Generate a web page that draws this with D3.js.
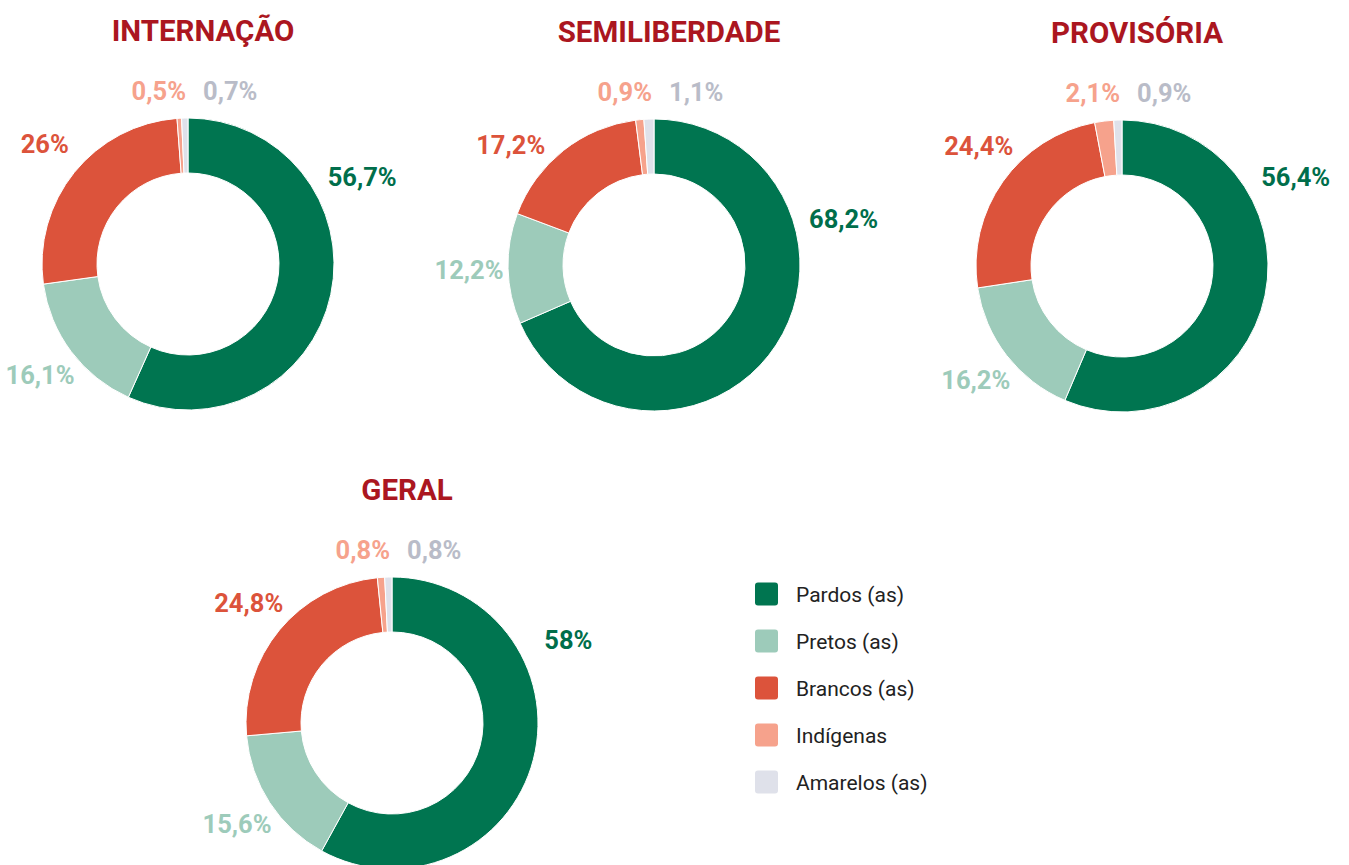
<!DOCTYPE html>
<html lang="pt-BR">
<head>
<meta charset="utf-8">
<script src="https://cdn.jsdelivr.net/npm/d3@7"></script>
<style>
  html, body { margin: 0; padding: 0; background: #fff; }
  svg { display: block; font-family: Roboto, "Noto Sans", sans-serif; }
</style>
</head>
<body>
<svg id="chart" width="1349" height="865"></svg>
<script>
// Raça/cor dos adolescentes por modalidade de medida (%)
const categories = ["Pardos (as)", "Pretos (as)", "Brancos (as)", "Indígenas", "Amarelos (as)"];
const panelTitles = ["INTERNAÇÃO", "SEMILIBERDADE", "PROVISÓRIA", "GERAL"];
const internacao    = [56.7, 16.1, 26.0, 0.5, 0.7];
const semiliberdade = [68.2, 12.2, 17.2, 0.9, 1.1];
const provisoria    = [56.4, 16.2, 24.4, 2.1, 0.9];
const geral         = [58.0, 15.6, 24.8, 0.8, 0.8];

const sliceColors = ["#007550", "#9dcbba", "#dc533b", "#f6a28c", "#dfe1ea"];
const labelColors = ["#006e4b", "#9dcbba", "#dc533b", "#f6a28c", "#b9bcc8"];
const titleColor = "#ab1620";

// donut placement on the page
const panels = [
  { title: panelTitles[0], values: internacao,    cx: 188, cy: 264 },
  { title: panelTitles[1], values: semiliberdade, cx: 654, cy: 265 },
  { title: panelTitles[2], values: provisoria,    cx: 1122, cy: 266 },
  { title: panelTitles[3], values: geral,         cx: 392, cy: 723 }
];

const outerR = 146, innerR = 91;
const svg = d3.select("#chart");
const pie = d3.pie().sort(null).value(d => d);
const arc = d3.arc().innerRadius(innerR).outerRadius(outerR);
const fmt = v => (Number.isInteger(v) ? String(v) : d3.format(".1f")(v).replace(".", ",")) + "%";

// point at a given angle (clockwise from 12 o'clock) and radius
const polar = (a, r) => [Math.sin(a) * r, -Math.cos(a) * r];

// where each value label sits around its ring
function labelPoint(d, i) {
  const mid = (d.startAngle + d.endAngle) / 2;
  if (i === 0) return polar(mid * 0.62, 195);          // main slice: upper part of its arc
  if (i === 2) return polar(-50 * Math.PI / 180, 187); // upper-left diagonal
  return polar(mid, 185);                               // centred on the slice
}

panels.forEach(p => {
  const g = svg.append("g").attr("transform", `translate(${p.cx},${p.cy})`);
  const arcs = pie(p.values);

  g.selectAll("path.slice")
    .data(arcs)
    .join("path")
    .attr("class", "slice")
    .attr("d", arc)
    .attr("fill", (d, i) => sliceColors[i])
    .attr("stroke", "#fff")
    .attr("stroke-width", 1);

  // title above the ring
  svg.append("text")
    .attr("x", p.cx + 15)
    .attr("y", p.cy - outerR - 77)
    .attr("text-anchor", "middle")
    .attr("fill", titleColor)
    .attr("font-size", 29.5)
    .attr("font-weight", 700)
    .text(p.title);

  // value labels
  g.selectAll("text.val")
    .data(arcs)
    .join("text")
    .attr("class", "val")
    .attr("font-size", 25.5)
    .attr("font-weight", 700)
    .attr("fill", (d, i) => labelColors[i])
    .each(function (d, i) {
      const t = d3.select(this);
      if (d.value < 3) {
        // thin slices near 12 o'clock: labels side by side above the ring
        const left = i === 3;
        t.attr("x", left ? -2 : 15)
         .attr("y", -outerR - 18)
         .attr("text-anchor", left ? "end" : "start");
      } else {
        const [x, y] = labelPoint(d, i);
        t.attr("x", x).attr("y", y).attr("text-anchor", "middle").attr("dy", "0.36em");
      }
    })
    .text(d => fmt(d.value));
});

// legend
const legend = svg.append("g").attr("transform", "translate(755,594)");
const rowY = d3.scalePoint().domain(categories).range([0, 47 * (categories.length - 1)]);
const rows = legend.selectAll("g").data(categories).join("g")
  .attr("transform", d => `translate(0,${rowY(d)})`);
rows.append("rect")
  .attr("x", 0).attr("y", -11.5)
  .attr("width", 23).attr("height", 23)
  .attr("rx", 3)
  .attr("fill", (d, i) => sliceColors[i]);
rows.append("text")
  .attr("x", 41).attr("y", 0).attr("dy", "0.36em")
  .attr("font-size", 21)
  .attr("fill", "#222")
  .text(d => d);
</script>
</body>
</html>
